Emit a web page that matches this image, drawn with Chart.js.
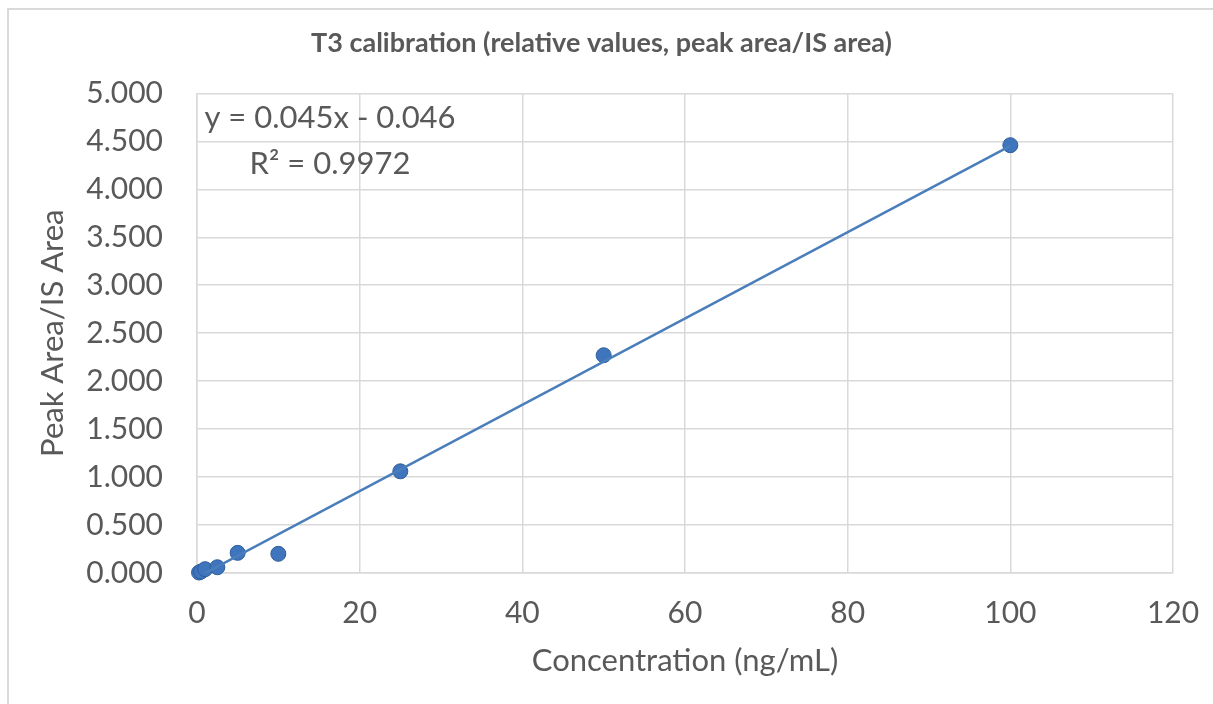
<!DOCTYPE html>
<html>
<head>
<meta charset="utf-8">
<script src="https://cdn.jsdelivr.net/npm/chart.js@4.4.1/dist/chart.umd.min.js"></script>
<style>
  html, body { margin: 0; padding: 0; background: #fff; }
  #wrap { width: 1213px; height: 704px; position: relative; }
</style>
</head>
<body>
<div id="wrap"><canvas id="chart"></canvas></div>
<script>
// calibration points
const concentrations = [0.25, 0.5, 1, 2.5, 5, 10, 25, 50, 100];
const ratios = [0.005, 0.015, 0.04, 0.06, 0.21, 0.20, 1.06, 2.27, 4.46];

// linear trendline y = slope*x + intercept
const slope = 0.045;
const intercept = -0.046;
const equationLines = ["y = 0.045x - 0.046", "R\u00b2 = 0.9972"];

// zero-width non-joiner keeps Lato from using the "ti" ligature
const TITLE = "T3 calibra\u200Ction (relative values, peak area/IS area)";
const X_TITLE = "Concentra\u200Ction (ng/mL)";
const Y_TITLE = "Peak Area/IS Area";

const GREY = "#595959";
const GRID = "#d9d9d9";
const BLUE = "#4a7ebb";

const xFirst = concentrations[0];
const xLast = concentrations[concentrations.length - 1];
const trendPoints = [
  { x: xFirst, y: slope * xFirst + intercept },
  { x: xLast, y: slope * xLast + intercept }
];

// outer frame + equation label
const extras = {
  id: "extras",
  beforeDraw(chart) {
    const c = chart.ctx;
    c.save();
    c.strokeStyle = GRID;
    c.lineWidth = 2;
    c.beginPath();
    c.moveTo(8, chart.height);
    c.lineTo(8, 9);
    c.lineTo(chart.width, 9);
    c.stroke();
    c.restore();
  },
  afterDatasetsDraw(chart) {
    const c = chart.ctx;
    const area = chart.chartArea;
    c.save();
    c.fillStyle = GREY;
    c.font = "31px Lato";
    c.textAlign = "center";
    c.textBaseline = "alphabetic";
    const cx = area.left + 133;
    c.fillText(equationLines[0], cx, area.top + 35);
    c.fillText(equationLines[1], cx, area.top + 81);
    c.restore();
  }
};

new Chart(document.getElementById("chart"), {
  type: "scatter",
  data: {
    datasets: [
      {
        label: "Trendline",
        data: trendPoints,
        showLine: true,
        borderColor: BLUE,
        borderWidth: 2.5,
        pointRadius: 0,
        pointHoverRadius: 0,
        clip: 0
      },
      {
        label: "T3",
        data: concentrations.map((x, i) => ({ x: x, y: ratios[i] })),
        backgroundColor: "#3f75bd",
        borderColor: "#2f5c99",
        borderWidth: 1,
        pointRadius: 7.5,
        clip: false
      }
    ]
  },
  options: {
    responsive: true,
    maintainAspectRatio: false,
    animation: false,
    layout: { padding: { left: 30, right: 40, top: 0, bottom: 20 } },
    plugins: {
      legend: { display: false },
      tooltip: { enabled: false },
      title: {
        display: true,
        text: TITLE,
        color: GREY,
        font: { family: "Lato", size: 27, weight: "bold" },
        padding: { top: 27, bottom: 34 }
      }
    },
    scales: {
      x: {
        type: "linear",
        min: 0,
        max: 120,
        ticks: { stepSize: 20, color: GREY, font: { family: "Lato", size: 30 }, padding: 22 },
        grid: { color: GRID, lineWidth: 1.5, drawTicks: false },
        border: { color: GRID, width: 1.5 },
        title: { display: true, text: X_TITLE, color: GREY, font: { family: "Lato", size: 31 } },
        afterFit(scale) {
          scale.height = 111;
          scale.paddingRight = 0;
        }
      },
      y: {
        type: "linear",
        min: 0,
        max: 5,
        ticks: {
          stepSize: 0.5,
          color: GREY,
          font: { family: "Lato", size: 30 },
          padding: 34,
          callback: (v) => Number(v).toFixed(3)
        },
        grid: { color: GRID, lineWidth: 1.5, drawTicks: false },
        border: { color: GRID, width: 1.5 },
        title: { display: true, text: Y_TITLE, color: GREY, font: { family: "Lato", size: 31 } },
        afterFit(scale) { scale.width = 167; }
      }
    }
  },
  plugins: [extras]
});
</script>
</body>
</html>
